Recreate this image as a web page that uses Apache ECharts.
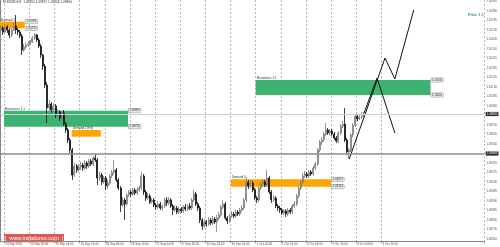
<!DOCTYPE html>
<html><head><meta charset="utf-8">
<script src="https://cdn.jsdelivr.net/npm/echarts@6/dist/echarts.min.js"></script>
<style>html,body{margin:0;padding:0;background:#fff}#c{width:500px;height:247px}</style>
</head><body><div id="c"></div>
<script>
const symbolTitle = 'EURUSD,H1  1.09855 1.09871 1.09846 1.09860';
const barSlots = 231;
const timeTickLabels = ['24 Sep 2019','24 Sep 16:00','25 Sep 04:00','25 Sep 16:00','26 Sep 04:00','26 Sep 16:00','27 Sep 04:00','27 Sep 16:00','30 Sep 04:00','30 Sep 16:00','1 Oct 04:00','1 Oct 16:00','2 Oct 04:00','2 Oct 16:00','3 Oct 04:00','3 Oct 16:00'];
const priceTicks = [1.10985,1.10890,1.10795,1.10700,1.10605,1.10510,1.10415,1.10320,1.10225,1.10130,1.10035,1.09940,1.09845,1.09750,1.09655,1.09560,1.09465,1.09370,1.09275,1.09180,1.09085,1.08990,1.08895,1.08800,1.08705,1.08610];
// [open, close, low, high]
const candles = [
[1.1070,1.1072,1.1068,1.1075],[1.1072,1.1068,1.1065,1.1074],[1.1068,1.1073,1.1066,1.1076],[1.1073,1.1070,1.1067,1.1075],
[1.1070,1.1065,1.1062,1.1072],[1.1065,1.1070,1.1063,1.1072],[1.1070,1.1074,1.1069,1.1078],[1.1074,1.1070,1.1066,1.1085],
[1.1070,1.1068,1.1065,1.1072],[1.1068,1.1064,1.1062,1.1070],[1.1064,1.1050,1.1045,1.1066],[1.1050,1.1053,1.1048,1.1056],
[1.1053,1.1055,1.1051,1.1058],[1.1055,1.1056,1.1053,1.1059],[1.1056,1.1058,1.1055,1.1060],[1.1058,1.1062,1.1057,1.1064],
[1.1062,1.1065,1.1060,1.1067],[1.1065,1.1060,1.1058,1.1066],[1.1060,1.1054,1.1052,1.1062],[1.1054,1.1045,1.1042,1.1056],
[1.1045,1.1034,1.1030,1.1046],[1.1034,1.1015,1.1012,1.1036],[1.1015,1.0992,1.0977,1.1018],[1.0992,1.0996,1.0988,1.1000],
[1.0996,1.0990,1.0987,1.0998],[1.0990,1.0994,1.0988,1.0997],[1.0994,1.0985,1.0982,1.0996],[1.0985,1.0988,1.0983,1.0991],
[1.0988,1.0982,1.0979,1.0990],[1.0982,1.0987,1.0980,1.0989],[1.0987,1.0976,1.0974,1.0990],[1.0976,1.0970,1.0967,1.0978],
[1.0970,1.0960,1.0957,1.0972],[1.0960,1.0950,1.0947,1.0962],[1.0950,1.0925,1.0920,1.0952],[1.0925,1.0934,1.0923,1.0937],
[1.0934,1.0930,1.0927,1.0936],[1.0930,1.0933,1.0928,1.0936],[1.0933,1.0935,1.0930,1.0938],[1.0935,1.0932,1.0929,1.0937],
[1.0932,1.0937,1.0930,1.0940],[1.0937,1.0934,1.0931,1.0939],[1.0934,1.0939,1.0932,1.0941],[1.0939,1.0936,1.0934,1.0941],
[1.0936,1.0942,1.0934,1.0944],[1.0942,1.0940,1.0938,1.0946],[1.0940,1.0922,1.0915,1.0942],[1.0922,1.0925,1.0919,1.0928],
[1.0925,1.0918,1.0915,1.0927],[1.0918,1.0922,1.0916,1.0924],[1.0922,1.0914,1.0910,1.0924],[1.0914,1.0917,1.0911,1.0920],
[1.0917,1.0924,1.0915,1.0926],[1.0924,1.0928,1.0922,1.0930],[1.0928,1.0930,1.0925,1.0940],[1.0930,1.0920,1.0918,1.0932],
[1.0920,1.0912,1.0910,1.0922],[1.0912,1.0895,1.0888,1.0914],[1.0895,1.0900,1.0893,1.0903],[1.0900,1.0896,1.0880,1.0902],
[1.0896,1.0905,1.0894,1.0907],[1.0905,1.0908,1.0903,1.0910],[1.0908,1.0906,1.0903,1.0910],[1.0906,1.0910,1.0904,1.0912],
[1.0910,1.0907,1.0905,1.0912],[1.0907,1.0910,1.0905,1.0913],[1.0910,1.0912,1.0908,1.0915],[1.0912,1.0924,1.0910,1.0928],
[1.0924,1.0908,1.0905,1.0926],[1.0908,1.0902,1.0899,1.0910],[1.0902,1.0904,1.0900,1.0907],[1.0904,1.0898,1.0896,1.0906],
[1.0898,1.0900,1.0896,1.0902],[1.0900,1.0895,1.0893,1.0902],[1.0895,1.0893,1.0890,1.0897],[1.0893,1.0896,1.0891,1.0899],
[1.0896,1.0892,1.0890,1.0898],[1.0892,1.0894,1.0889,1.0896],[1.0894,1.0900,1.0892,1.0902],[1.0900,1.0897,1.0894,1.0903],
[1.0897,1.0900,1.0895,1.0903],[1.0900,1.0894,1.0892,1.0902],[1.0894,1.0890,1.0885,1.0896],[1.0890,1.0892,1.0888,1.0895],
[1.0892,1.0888,1.0886,1.0894],[1.0888,1.0891,1.0886,1.0893],[1.0891,1.0889,1.0887,1.0893],[1.0889,1.0893,1.0887,1.0895],
[1.0893,1.0891,1.0889,1.0896],[1.0891,1.0894,1.0889,1.0896],[1.0894,1.0892,1.0890,1.0897],[1.0892,1.0900,1.0890,1.0902],
[1.0900,1.0906,1.0898,1.0910],[1.0906,1.0896,1.0894,1.0908],[1.0896,1.0892,1.0889,1.0898],[1.0892,1.0880,1.0877,1.0894],
[1.0880,1.0874,1.0870,1.0882],[1.0874,1.0878,1.0872,1.0881],[1.0878,1.0876,1.0873,1.0880],[1.0876,1.0880,1.0874,1.0883],
[1.0880,1.0877,1.0875,1.0882],[1.0877,1.0881,1.0875,1.0884],[1.0881,1.0878,1.0876,1.0883],[1.0878,1.0882,1.0868,1.0885],
[1.0882,1.0885,1.0880,1.0888],[1.0885,1.0893,1.0883,1.0895],[1.0893,1.0896,1.0891,1.0900],[1.0896,1.0882,1.0880,1.0898],
[1.0882,1.0879,1.0876,1.0884],[1.0879,1.0884,1.0877,1.0886],[1.0884,1.0886,1.0882,1.0889],[1.0886,1.0884,1.0882,1.0888],
[1.0884,1.0888,1.0882,1.0890],[1.0888,1.0886,1.0884,1.0890],[1.0886,1.0890,1.0884,1.0892],[1.0890,1.0892,1.0888,1.0895],
[1.0892,1.0900,1.0890,1.0902],[1.0900,1.0918,1.0898,1.0923],[1.0918,1.0914,1.0911,1.0920],[1.0914,1.0917,1.0912,1.0920],
[1.0917,1.0910,1.0908,1.0919],[1.0910,1.0902,1.0900,1.0912],[1.0902,1.0900,1.0897,1.0904],[1.0900,1.0912,1.0898,1.0914],
[1.0912,1.0916,1.0910,1.0918],[1.0916,1.0918,1.0914,1.0921],[1.0918,1.0915,1.0913,1.0920],[1.0915,1.0922,1.0913,1.0930],
[1.0922,1.0908,1.0906,1.0924],[1.0908,1.0900,1.0897,1.0910],[1.0900,1.0902,1.0898,1.0905],[1.0902,1.0894,1.0892,1.0904],
[1.0894,1.0892,1.0889,1.0896],[1.0892,1.0890,1.0887,1.0894],[1.0890,1.0887,1.0885,1.0892],[1.0887,1.0889,1.0885,1.0891],
[1.0889,1.0886,1.0883,1.0891],[1.0886,1.0890,1.0884,1.0892],[1.0890,1.0888,1.0886,1.0892],[1.0888,1.0894,1.0886,1.0896],
[1.0894,1.0896,1.0892,1.0899],[1.0896,1.0904,1.0894,1.0906],[1.0904,1.0912,1.0902,1.0914],[1.0912,1.0918,1.0910,1.0920],
[1.0918,1.0924,1.0916,1.0927],[1.0924,1.0926,1.0922,1.0929],[1.0926,1.0924,1.0922,1.0928],[1.0924,1.0928,1.0922,1.0930],
[1.0928,1.0926,1.0924,1.0930],[1.0926,1.0932,1.0924,1.0934],[1.0932,1.0936,1.0930,1.0938],[1.0936,1.0950,1.0934,1.0952],
[1.0950,1.0958,1.0948,1.0960],[1.0958,1.0960,1.0955,1.0963],[1.0960,1.0966,1.0958,1.0968],[1.0966,1.0970,1.0964,1.0977],
[1.0970,1.0967,1.0965,1.0972],[1.0967,1.0969,1.0965,1.0971],[1.0969,1.0966,1.0964,1.0971],[1.0966,1.0962,1.0960,1.0968],
[1.0962,1.0959,1.0957,1.0964],[1.0959,1.0967,1.0957,1.0969],[1.0967,1.0974,1.0965,1.0976],[1.0974,1.0976,1.0972,1.0979],
[1.0976,1.0960,1.0958,1.0992],[1.0960,1.0948,1.0945,1.0962],[1.0948,1.0950,1.0941,1.0952],[1.0950,1.0965,1.0948,1.0967],
[1.0965,1.0975,1.0963,1.0977],[1.0975,1.0984,1.0973,1.0986],[1.0984,1.0981,1.0979,1.0986],[1.0981,1.0983,1.0980,1.0985],
[1.0983,1.0984,1.0981,1.0988],[1.0984,1.0986,1.0983,1.0988]
];
const currentPrice = 1.0986;
const supportLevel = 1.09465;
const supportName = 'Support line H1';
// zones (x in bar units, y in price)
const zoneNames  = ['Demand 1','Resistance 1:1','Demand 2 (H4)','Resistance 2:1','Demand 3'];
const zoneKinds  = ['orange','green','orange','green','orange'];
const zoneStart  = [0, 1.9, 34.2, 122.0, 110.1];
const zoneEnd    = [11.8, 61.1, 48.1, 205.4, 158.1];
const zoneTop    = [1.10783, 1.09893, 1.09700, 1.10200, 1.09207];
const zoneBottom = [1.10717, 1.09733, 1.09633, 1.10050, 1.09133];
const zoneTagged = [1, 1, 0, 1, 1];
// projected scenarios
const scenarioAX = [166.6, 183.7, 188.4, 197.4];
const scenarioAY = [1.0941, 1.1042, 1.1021, 1.1090];
const scenarioBX = [173.7, 179.9, 188.4];
const scenarioBY = [1.0987, 1.1022, 1.0967];

const chart = echarts.init(document.getElementById('c'), null, {renderer: 'canvas'});
const cats = Array.from({length: barSlots}, (_, i) => String(i));
const zoneData = zoneNames.map((n, k) => [zoneStart[k], zoneEnd[k], zoneTop[k], zoneBottom[k], k]);
const colors = {orange: '#ffa500', green: '#3cb371'};
const isGridIdx = i => i % 12 === 2 && i <= 182;
const FONT = 'Liberation Sans, Arial, sans-serif';
const tagLabel = {position: 'end', distance: 1.5, formatter: p => Number(p.value).toFixed(5), fontSize: 3, color: '#fff',
  backgroundColor: '#2a2a2a', padding: [0.6, 1], fontFamily: FONT};

chart.setOption({
  animation: false,
  backgroundColor: '#fff',
  grid: {left: 0, right: 12, top: 0, bottom: 5.3, containLabel: false},
  xAxis: [{
    type: 'category', data: cats, boundaryGap: true,
    axisLine: {show: true, lineStyle: {color: '#888', width: 1}},
    axisTick: {show: true, interval: isGridIdx, length: 1.5, lineStyle: {color: '#888'}},
    axisLabel: {show: true, interval: isGridIdx, align: 'left', margin: 1.2, fontSize: 3, color: '#555', fontFamily: FONT,
      formatter: (v, i) => timeTickLabels[(i - 2) / 12] || ''},
    splitLine: {show: true, interval: isGridIdx, lineStyle: {color: '#b8b8b8', type: [2, 2], width: 1}}
  }, {
    type: 'value', min: 0, max: barSlots, show: false
  }],
  yAxis: [{
    type: 'value', position: 'right', min: 1.08583, max: 1.11000, scale: true,
    axisLine: {show: true, lineStyle: {color: '#888', width: 1}},
    axisTick: {show: true, customValues: priceTicks, length: 1.5, lineStyle: {color: '#888'}},
    axisLabel: {show: true, customValues: priceTicks, margin: 2, fontSize: 3, color: '#555', fontFamily: FONT,
      formatter: v => v.toFixed(5)},
    splitLine: {show: false}
  }],
  graphic: [
    {type: 'text', left: 3, top: 0.8, style: {text: symbolTitle, fontSize: 3.2, fill: '#333', fontFamily: FONT}},
    {type: 'text', left: 468, top: 13, style: {text: 'Price 1:1', fontSize: 3.8, fontWeight: 'bold', fill: '#2e9e5e', fontFamily: FONT}},
    {type: 'group', left: 4, top: 234, children: [
      {type: 'rect', shape: {x: 0, y: 0, width: 60, height: 8.3}, style: {fill: 'rgba(216,64,64,0.88)'}},
      {type: 'text', x: 30, y: 4.3, style: {text: '|  www.instaforex.com  |', fontSize: 5.6, fill: '#fff', align: 'center', verticalAlign: 'middle', fontFamily: FONT}}
    ]}
  ],
  series: [
    {
      type: 'custom', xAxisIndex: 1, yAxisIndex: 0, z: 1, clip: false,
      encode: {x: [0, 1], y: [2, 3]},
      data: zoneData,
      renderItem: (params, api) => {
        const k = api.value(4);
        const p0 = api.coord([api.value(0), api.value(2)]);
        const p1 = api.coord([api.value(1), api.value(3)]);
        const ch = [
          {type: 'rect', shape: {x: p0[0], y: p0[1], width: p1[0] - p0[0], height: p1[1] - p0[1]},
           style: {fill: colors[zoneKinds[k]]}},
          {type: 'text', style: {text: zoneNames[k], x: p0[0] + 1, y: p0[1] - 0.4, fontSize: 3, fill: '#333',
            verticalAlign: 'bottom', fontFamily: FONT}}
        ];
        if (zoneTagged[k]) {
          [api.value(2), api.value(3)].forEach((val, j) => {
            ch.push({type: 'text', style: {text: val.toFixed(5), x: p1[0] + 0.5, y: j ? p1[1] : p0[1],
              fontSize: 2.8, fill: '#444', verticalAlign: 'middle', backgroundColor: '#e4e4e4',
              borderColor: '#999', borderWidth: 0.5, padding: [0.4, 1], fontFamily: FONT}});
          });
        }
        return {type: 'group', children: ch};
      }
    },
    {
      type: 'candlestick', xAxisIndex: 0, yAxisIndex: 0, z: 3,
      data: candles, barWidth: 1.5,
      itemStyle: {color: '#b9b9b9', color0: '#111', borderColor: '#7c7c7c', borderColor0: '#111', borderWidth: 0.8},
      markLine: {
        symbol: 'none', silent: true, animation: false, precision: 6,
        data: [
          {yAxis: currentPrice, lineStyle: {color: '#cfcfcf', width: 1, type: 'solid'}, label: tagLabel},
          {yAxis: supportLevel, lineStyle: {color: '#8c8c8c', width: 1.5, type: 'solid'}, label: tagLabel},
          {yAxis: supportLevel, lineStyle: {opacity: 0},
           label: {position: 'insideStartTop', distance: 0.8, formatter: supportName, fontSize: 3, color: '#333', fontFamily: FONT}}
        ]
      }
    },
    {
      type: 'line', xAxisIndex: 1, yAxisIndex: 0, z: 4, symbol: 'none',
      data: scenarioAX.map((x, i) => [x, scenarioAY[i]]),
      lineStyle: {color: '#111', width: 1}
    },
    {
      type: 'line', xAxisIndex: 1, yAxisIndex: 0, z: 4, symbol: 'none',
      data: scenarioBX.map((x, i) => [x, scenarioBY[i]]),
      lineStyle: {color: '#111', width: 1}
    }
  ]
});
</script></body></html>
